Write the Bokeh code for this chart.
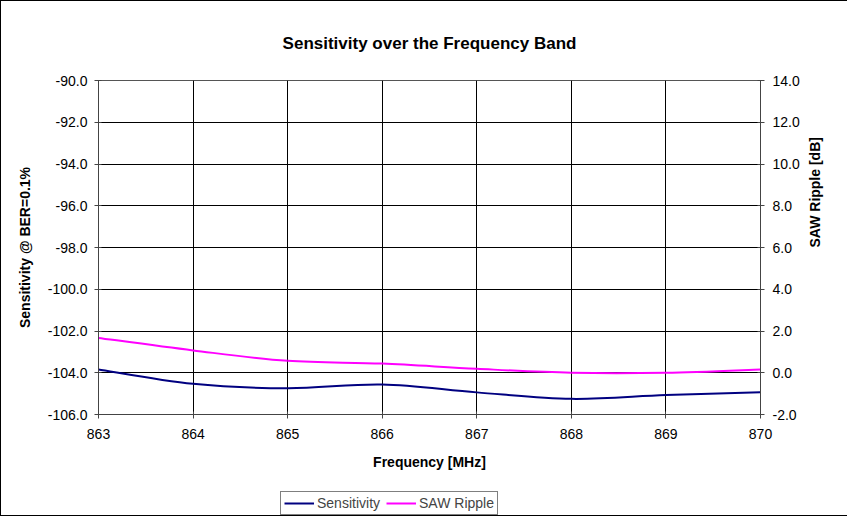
import math
from bokeh.plotting import figure
from bokeh.layouts import column
from bokeh.models import (Range1d, LinearAxis, SingleIntervalTicker, NumeralTickFormatter,
                          Legend, LegendItem, Title)
from bokeh.embed import file_html
from bokeh.resources import INLINE

freq = [863, 864, 865, 866, 867, 868, 869, 870]
sensitivity = [-103.84, -104.53, -104.74, -104.56, -104.94, -105.25, -105.07, -104.93]
saw_ripple = [1.67, 1.07, 0.57, 0.44, 0.19, 0.0, 0.0, 0.16]
series_names = ["Sensitivity", "SAW Ripple"]

FONT = "Liberation Sans"
NAVY = "#000080"
MAGENTA = "#FF00FF"


def smooth(xs, ys):
    n = len(xs)
    x0, y0, x1, y1, cx0, cy0, cx1, cy1 = ([] for _ in range(8))
    for i in range(n - 1):
        im = max(i - 1, 0)
        ip = min(i + 2, n - 1)
        x0.append(xs[i]); y0.append(ys[i])
        x1.append(xs[i + 1]); y1.append(ys[i + 1])
        cx0.append(xs[i] + (xs[i + 1] - xs[im]) / 6.0)
        cy0.append(ys[i] + (ys[i + 1] - ys[im]) / 6.0)
        cx1.append(xs[i + 1] - (xs[ip] - xs[i]) / 6.0)
        cy1.append(ys[i + 1] - (ys[ip] - ys[i]) / 6.0)
    return dict(x0=x0, y0=y0, x1=x1, y1=y1, cx0=cx0, cy0=cy0, cx1=cx1, cy1=cy1)


p = figure(output_backend="svg", toolbar_location=None,
           x_range=Range1d(863, 870), y_range=Range1d(-106, -90),
           frame_width=662, frame_height=334,
           min_border_left=97, min_border_right=87, min_border_top=79, min_border_bottom=77)
p.extra_y_ranges = {"saw": Range1d(-2, 14)}

p.title = Title(text="Sensitivity over the Frequency Band", align="center",
                text_font=FONT, text_font_size="17px", text_font_style="bold",
                text_color="black", standoff=56, offset=8)

p.background_fill_color = "white"
p.border_fill_color = "white"
p.outline_line_color = "#555555"
p.outline_line_width = 1

p.xgrid.ticker = SingleIntervalTicker(interval=1)
p.ygrid.ticker = SingleIntervalTicker(interval=2)
p.xgrid.grid_line_color = "black"
p.ygrid.grid_line_color = "black"
p.xgrid.grid_line_width = 1
p.ygrid.grid_line_width = 1

xa = p.xaxis[0]
xa.ticker = SingleIntervalTicker(interval=1)
xa.formatter = NumeralTickFormatter(format="0")
xa.axis_label = "Frequency [MHz]"

ya = p.yaxis[0]
ya.ticker = SingleIntervalTicker(interval=2)
ya.formatter = NumeralTickFormatter(format="0.0")
ya.axis_label = "Sensitivity @ BER=0.1%"

ra = LinearAxis(y_range_name="saw", ticker=SingleIntervalTicker(interval=2),
                formatter=NumeralTickFormatter(format="0.0"), axis_label="SAW Ripple [dB]")
p.add_layout(ra, "right")

for ax in (xa, ya, ra):
    ax.axis_line_color = "#444444"
    ax.axis_line_width = 1
    ax.major_tick_line_color = "#444444"
    ax.major_tick_in = 3
    ax.major_tick_out = 4
    ax.minor_tick_line_color = None
    ax.major_label_text_font = FONT
    ax.major_label_text_font_size = "14px"
    ax.major_label_text_color = "black"
    ax.axis_label_text_font = FONT
    ax.axis_label_text_font_size = "14px"
    ax.axis_label_text_font_style = "bold"
    ax.axis_label_text_color = "black"
    ax.axis_label_standoff = 12

xa.major_label_standoff = 10
ya.major_label_standoff = 7
ra.major_label_standoff = 8
ra.axis_label_orientation = math.pi / 2

s1 = smooth(freq, sensitivity)
s2 = smooth(freq, saw_ripple)
p.bezier(x0="x0", y0="y0", x1="x1", y1="y1", cx0="cx0", cy0="cy0", cx1="cx1", cy1="cy1",
         source=s1, line_color=NAVY, line_width=2)
p.bezier(x0="x0", y0="y0", x1="x1", y1="y1", cx0="cx0", cy0="cy0", cx1="cx1", cy1="cy1",
         source=s2, line_color=MAGENTA, line_width=2, y_range_name="saw")

# legend strip below the chart (legend keys reference the same series, out of view)
lf = figure(output_backend="svg", toolbar_location=None,
            x_range=Range1d(0, 1), y_range=Range1d(0, 1),
            x_axis_location=None, y_axis_location=None,
            frame_width=662, frame_height=24,
            min_border_left=97, min_border_right=87, min_border_top=0, min_border_bottom=0)
lf.outline_line_color = None
lf.xgrid.visible = False
lf.ygrid.visible = False
lf.background_fill_color = "white"
lf.border_fill_color = "white"
lr1 = lf.line(freq, sensitivity, line_color=NAVY, line_width=2)
lr2 = lf.line(freq, saw_ripple, line_color=MAGENTA, line_width=2)

legend = Legend(items=[LegendItem(label=series_names[0], renderers=[lr1]),
                       LegendItem(label=series_names[1], renderers=[lr2])],
                orientation="horizontal", location=(182, 0),
                label_text_font=FONT, label_text_font_size="14px",
                border_line_color="black", border_line_width=1,
                glyph_width=30, glyph_height=10, label_standoff=3, spacing=6,
                padding=3, margin=0, label_height=14)
lf.add_layout(legend, "center")

page = column(p, lf, spacing=0)
page.styles = {"border": "1px solid black"}

open("out.html", "w").write(file_html(page, INLINE))
